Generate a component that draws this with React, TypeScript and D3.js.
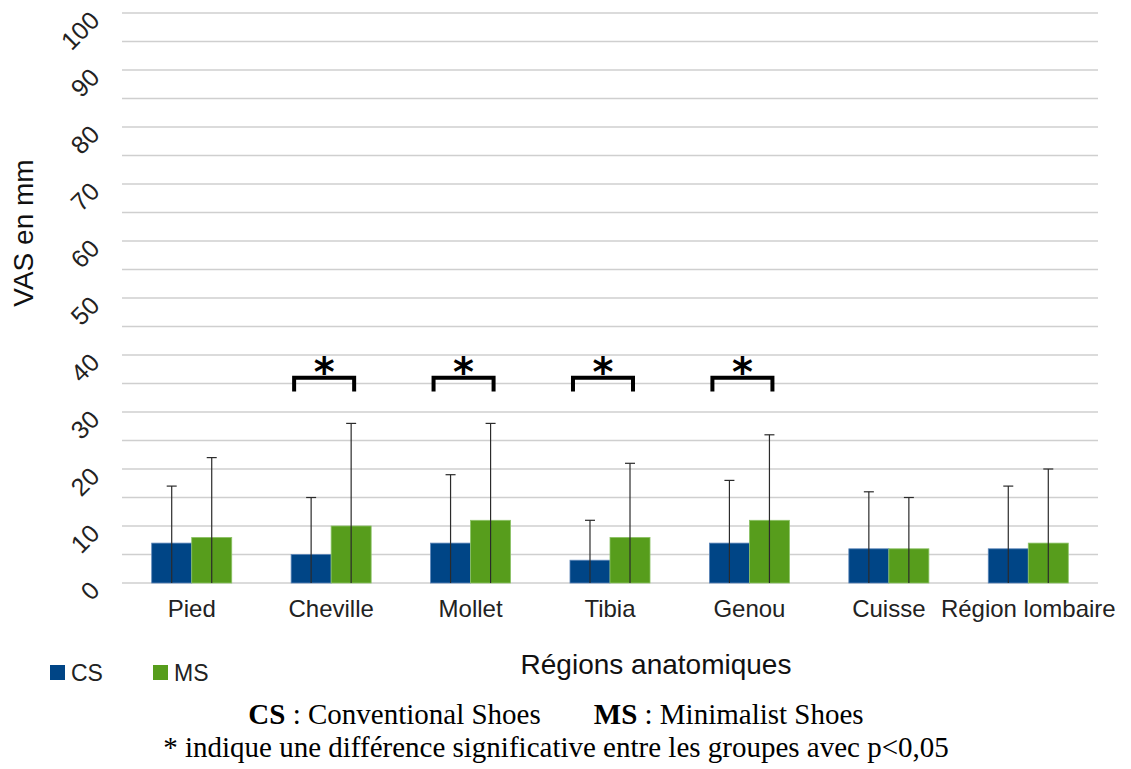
import React from "react";
import * as d3 from "d3";

const categories = ["Pied", "Cheville", "Mollet", "Tibia", "Genou", "Cuisse", "Région lombaire"];
const csMean = [7, 5, 7, 4, 7, 6, 6];
const msMean = [8, 10, 11, 8, 11, 6, 7];
const csSd = [10, 10, 12, 7, 11, 10, 11];
const msSd = [14, 18, 17, 13, 15, 9, 13];
const significant = ["Cheville", "Mollet", "Tibia", "Genou"];
const yTicks = [0, 10, 20, 30, 40, 50, 60, 70, 80, 90, 100];
const gridValues = d3.range(0, 101, 5);

const CS_COLOR = "#004586";
const MS_COLOR = "#579d1c";
const SANS = "'Liberation Sans', Arial, sans-serif";
const SERIF = "'Liberation Serif', 'Times New Roman', serif";

export default function App() {
    const width = 1131;
    const height = 769;
    const margin = { left: 122, right: 33, top: 13, bottom: 186 };

    // scales
    const x = d3
        .scaleBand()
        .domain(categories)
        .range([margin.left, width - margin.right])
        .paddingInner(0.426)
        .paddingOuter(0.213);
    const barW = x.bandwidth() / 2;
    const y = d3.scaleLinear().domain([0, 100]).range([height - margin.bottom, margin.top]);

    const series = [
        { name: "CS", color: CS_COLOR, stroke: "#5d86b8", mean: csMean, sd: csSd, offset: 0 },
        { name: "MS", color: MS_COLOR, stroke: "#8cc266", mean: msMean, sd: msSd, offset: 1 },
    ];

    return (
        <div style={{ position: "absolute", left: 0, top: 0 }}>
            <svg width={width} height={height} style={{ display: "block", background: "#fff" }}>
                {/* grid */}
                {gridValues.map(v => (
                    <line
                        key={v}
                        x1={margin.left}
                        x2={width - margin.right}
                        y1={y(v)}
                        y2={y(v)}
                        stroke="#cfcfcf"
                        strokeWidth={1.3}
                    />
                ))}

                {/* y tick labels, rotated */}
                {yTicks.map(v => (
                    <text
                        key={v}
                        transform={`translate(101,${y(v) + 9}) rotate(-45)`}
                        textAnchor="end"
                        fontFamily={SANS}
                        fontSize={25}
                        fill="#222"
                    >
                        {v}
                    </text>
                ))}

                <text
                    transform={`translate(33,${233}) rotate(-90)`}
                    textAnchor="middle"
                    fontFamily={SANS}
                    fontSize={28}
                    fill="#111"
                >
                    VAS en mm
                </text>

                {/* bars */}
                {series.map(s =>
                    categories.map((c, i) => (
                        <rect
                            key={s.name + c}
                            x={(x(c) as number) + s.offset * barW}
                            y={y(s.mean[i])}
                            width={barW}
                            height={y(0) - y(s.mean[i])}
                            fill={s.color}
                            stroke={s.stroke}
                            strokeWidth={0.8}
                        />
                    ))
                )}

                {/* error bars */}
                {series.map(s =>
                    categories.map((c, i) => {
                        const cx = (x(c) as number) + s.offset * barW + barW / 2;
                        const top = y(s.mean[i] + s.sd[i]);
                        return (
                            <g key={"e" + s.name + c} stroke="#2b2b2b" strokeWidth={1.2}>
                                <line x1={cx} x2={cx} y1={y(0)} y2={top} />
                                <line x1={cx - 5} x2={cx + 5} y1={top} y2={top} />
                            </g>
                        );
                    })
                )}

                {/* significance brackets */}
                {significant.map(c => {
                    const x0 = (x(c) as number) + 3;
                    const x1 = (x(c) as number) + barW * 1.5 + 3;
                    const top = y(36);
                    const bot = y(33.6);
                    return (
                        <g key={"sig" + c}>
                            <path
                                d={`M${x0},${bot} V${top} H${x1} V${bot}`}
                                fill="none"
                                stroke="#000"
                                strokeWidth={4}
                            />
                            <text
                                x={(x0 + x1) / 2}
                                y={top + 8}
                                textAnchor="middle"
                                fontFamily="'DejaVu Sans', sans-serif"
                                fontWeight="bold"
                                fontSize={40}
                                fill="#000"
                            >
                                *
                            </text>
                        </g>
                    );
                })}

                {/* x labels */}
                {categories.map(c => (
                    <text
                        key={"xl" + c}
                        x={(x(c) as number) + barW}
                        y={617}
                        textAnchor="middle"
                        fontFamily={SANS}
                        fontSize={24}
                        fill="#222"
                    >
                        {c}
                    </text>
                ))}

                <text x={656} y={674} textAnchor="middle" fontFamily={SANS} fontSize={28} fill="#111">
                    Régions anatomiques
                </text>

                {/* legend */}
                {series.map((s, i) => (
                    <g key={"lg" + s.name} transform={`translate(${50 + i * 103},665)`}>
                        <rect width={15} height={15} fill={s.color} />
                        <text x={21} y={16} fontFamily={SANS} fontSize={23} fill="#222">
                            {s.name}
                        </text>
                    </g>
                ))}

                {/* notes */}
                <text x={556} y={724} textAnchor="middle" fontFamily={SERIF} fontSize={29} fill="#000">
                    <tspan fontWeight="bold">CS</tspan>
                    <tspan> : Conventional Shoes</tspan>
                    <tspan dx={53} fontWeight="bold">MS</tspan>
                    <tspan> : Minimalist Shoes</tspan>
                </text>
                <text x={556} y={757} textAnchor="middle" fontFamily={SERIF} fontSize={29} fill="#000">
                    * indique une différence significative entre les groupes avec p&lt;0,05
                </text>
            </svg>
        </div>
    );
}
